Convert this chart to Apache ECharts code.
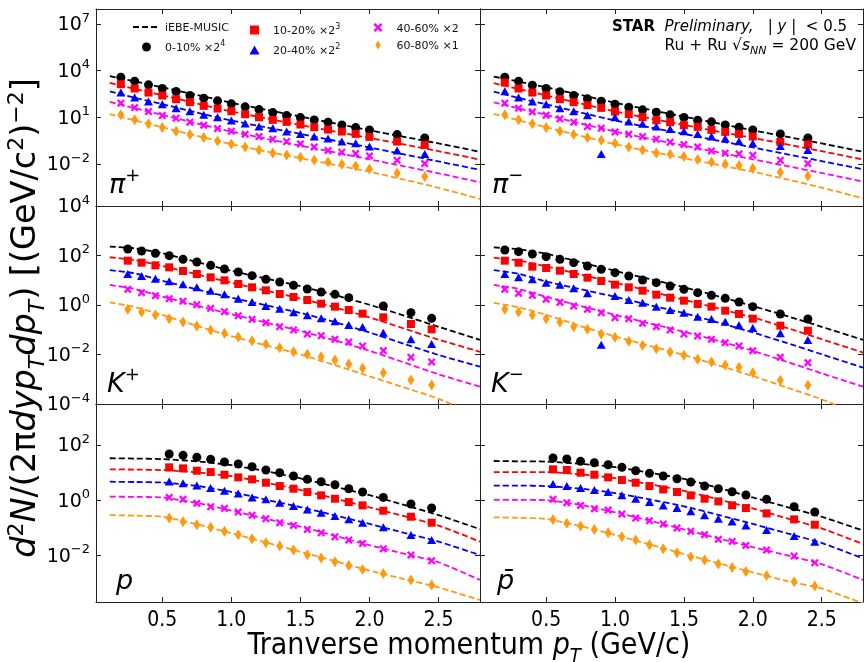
<!DOCTYPE html>
<html><head><meta charset="utf-8">
<script src="https://cdn.jsdelivr.net/npm/echarts@6.0.0/dist/echarts.min.js"></script>
<style>html,body{margin:0;padding:0;background:#fff}#c{width:864px;height:662px}</style>
</head><body><div id="c"></div>
<script>
// ---- DATA (y values stored as log10 of the yield) ----
const ptPi = [0.2,0.3,0.4,0.5,0.6,0.7,0.8,0.9,1.0,1.1,1.2,1.3,1.4,1.5,1.6,1.7,1.8,1.9,2.0,2.2,2.4];
const ptKp = [0.25,0.35,0.45,0.55,0.65,0.75,0.85,0.95,1.05,1.15,1.25,1.35,1.45,1.55,1.65,1.75,1.85,1.95,2.1,2.3,2.45];
const ptKm = [0.2,0.3,0.4,0.5,0.6,0.7,0.8,0.9,1.0,1.1,1.2,1.3,1.4,1.5,1.6,1.7,1.8,1.9,2.0,2.2,2.4];
const ptP  = [0.55,0.65,0.75,0.85,0.95,1.05,1.15,1.25,1.35,1.45,1.55,1.65,1.75,1.85,1.95,2.1,2.3,2.45];
const curveX = [0.12,0.3,0.5,0.75,1.0,1.25,1.5,1.75,2.0,2.25,2.5,2.8];

// pi+
const pip0 = [3.575,3.317,3.08,2.842,2.649,2.392,2.225,2.051,1.859,1.666,1.492,1.299,1.107,0.978,0.83,0.683,0.509,0.336,0.188,-0.114,-0.326];
const pip1 = [3.123,2.844,2.587,2.394,2.159,1.966,1.730,1.559,1.388,1.195,1.002,0.831,0.702,0.531,0.359,0.209,0.081,-0.069,-0.262,-0.562,-0.776];
const pip2 = [2.587,2.266,2.008,1.837,1.580,1.388,1.152,1.002,0.788,0.595,0.402,0.295,0.081,-0.069,-0.240,-0.369,-0.562,-0.669,-0.883,-1.140,-1.354];
const pip3 = [1.901,1.623,1.366,1.109,0.938,0.680,0.488,0.274,0.102,-0.090,-0.240,-0.411,-0.562,-0.711,-0.904,-1.140,-1.247,-1.332,-1.482,-1.761,-1.975];
const pip4 = [1.152,0.831,0.574,0.338,0.102,-0.112,-0.305,-0.519,-0.711,-0.904,-1.097,-1.290,-1.418,-1.568,-1.740,-1.868,-2.018,-2.125,-2.318,-2.575,-2.810];
const pipT0 = [3.64,3.30,2.92,2.43,1.93,1.48,1.04,0.60,0.16,-0.26,-0.68,-1.22];
const pipT1 = [3.20,2.82,2.41,1.88,1.37,0.93,0.50,0.08,-0.33,-0.75,-1.18,-1.72];
const pipT2 = [2.66,2.25,1.84,1.30,0.79,0.35,-0.07,-0.51,-0.94,-1.39,-1.84,-2.38];
const pipT3 = [1.98,1.58,1.15,0.60,0.08,-0.38,-0.82,-1.26,-1.70,-2.15,-2.60,-3.18];
const pipT4 = [1.20,0.80,0.36,-0.19,-0.73,-1.19,-1.63,-2.06,-2.50,-3.00,-3.53,-4.25];
// pi-
const pim0 = [3.575,3.317,3.060,2.846,2.632,2.394,2.180,2.030,1.837,1.644,1.473,1.323,1.152,0.981,0.809,0.702,0.509,0.359,0.188,-0.069,-0.326];
const pim1 = [3.229,2.844,2.587,2.394,2.159,1.966,1.773,1.602,1.366,1.195,1.002,0.809,0.680,0.488,0.381,0.188,0.059,-0.069,-0.240,-0.583,-0.754];
const pim2 = [2.673,2.266,2.008,1.837,1.580,1.388,1.130,-1.355,1.002,0.724,0.574,0.402,0.252,0.102,-0.069,-0.240,-0.369,-0.540,-0.669,-0.840,-1.097];
const pim3 = [1.901,1.580,1.345,1.130,0.895,0.680,0.402,0.295,0.059,-0.090,-0.240,-0.411,-0.604,-0.754,-0.904,-1.161,-1.311,-1.354,-1.440,-1.761,-1.975];
const pim4 = [1.152,0.831,0.574,0.338,0.102,-0.112,-0.305,-0.476,-0.669,-0.904,-1.097,-1.290,-1.375,-1.525,-1.718,-1.868,-1.997,-2.104,-2.275,-2.532,-2.767];
const pimT0 = [3.61,3.29,2.92,2.43,1.93,1.48,1.04,0.60,0.16,-0.26,-0.68,-1.22];
const pimT1 = [3.19,2.81,2.40,1.88,1.37,0.93,0.50,0.08,-0.33,-0.75,-1.18,-1.72];
const pimT2 = [2.65,2.24,1.83,1.30,0.79,0.35,-0.07,-0.51,-0.94,-1.38,-1.82,-2.34];
const pimT3 = [1.96,1.57,1.15,0.60,0.08,-0.38,-0.82,-1.26,-1.70,-2.14,-2.58,-3.13];
const pimT4 = [1.22,0.80,0.36,-0.19,-0.73,-1.19,-1.63,-2.06,-2.50,-2.99,-3.52,-4.20];
// K+
const kp0 = [2.263,2.182,2.088,1.993,1.845,1.737,1.603,1.455,1.333,1.185,1.037,0.929,0.795,0.646,0.525,0.431,0.296,null,-0.040,-0.310,-0.539];
const kp1 = [1.791,1.710,1.603,1.522,1.374,1.253,1.118,0.997,0.848,0.714,0.593,0.444,0.323,0.202,0.054,-0.067,-0.202,-0.350,-0.498,-0.768,-0.983];
const kp2 = [1.253,1.172,1.064,0.956,0.835,0.714,0.579,0.431,0.256,0.121,-0.040,-0.148,-0.296,-0.418,-0.539,-0.660,-0.808,-0.889,-1.118,-1.387,-1.576];
const kp3 = [0.633,0.498,0.377,0.256,0.148,0.013,-0.135,-0.269,-0.431,-0.579,-0.714,-0.875,-1.010,-1.172,-1.239,-1.387,-1.495,-1.657,-1.845,-2.114,-2.303];
const kp4 = [-0.175,-0.283,-0.404,-0.552,-0.687,-0.848,-1.010,-1.145,-1.293,-1.441,-1.589,-1.724,-1.886,-1.993,-2.088,-2.222,-2.384,-2.559,-2.734,-3.030,-3.232];
const kpT0 = [2.36,2.29,2.09,1.74,1.38,1.07,0.76,0.40,0.01,-0.43,-0.88,-1.41];
const kpT1 = [1.93,1.82,1.58,1.24,0.90,0.58,0.26,-0.10,-0.50,-0.95,-1.40,-1.89];
const kpT2 = [1.41,1.28,0.98,0.63,0.30,-0.01,-0.32,-0.69,-1.11,-1.57,-2.02,-2.49];
const kpT3 = [0.81,0.65,0.34,-0.02,-0.37,-0.71,-1.05,-1.43,-1.85,-2.32,-2.80,-3.30];
const kpT4 = [0.11,-0.08,-0.40,-0.84,-1.26,-1.63,-2.00,-2.43,-2.88,-3.33,-3.79,-4.50];
// K-
const km0 = [2.222,2.155,2.061,1.953,1.845,1.710,1.576,1.441,1.306,1.172,1.010,0.902,0.768,0.633,0.498,0.391,0.269,0.121,-0.067,-0.364,-0.566];
const km1 = [1.791,1.710,1.549,1.495,1.387,1.253,1.104,0.970,0.822,0.714,0.579,0.418,0.296,0.175,0.040,-0.067,-0.229,-0.364,-0.552,-0.835,-1.037];
const km2 = [1.253,1.118,1.037,0.902,0.822,0.673,0.471,-1.603,0.364,0.202,0.094,-0.067,-0.202,-0.310,-0.471,-0.566,-0.673,-0.822,-0.929,-1.145,-1.414];
const km3 = [0.633,0.471,0.391,0.229,0.108,-0.040,-0.175,-0.310,-0.512,-0.552,-0.741,-0.875,-1.010,-1.172,-1.253,-1.387,-1.522,-1.657,-1.845,-2.114,-2.330];
const km4 = [-0.175,-0.283,-0.404,-0.552,-0.687,-0.875,-0.983,-1.172,-1.306,-1.468,-1.630,-1.764,-1.899,-2.034,-2.195,-2.303,-2.424,-2.519,-2.734,-3.044,-3.246];
const kmT0 = [2.33,2.25,2.07,1.73,1.38,1.05,0.72,0.35,-0.04,-0.45,-0.88,-1.41];
const kmT1 = [1.91,1.80,1.56,1.23,0.90,0.56,0.21,-0.14,-0.50,-0.93,-1.38,-1.92];
const kmT2 = [1.41,1.26,0.95,0.64,0.33,0.00,-0.33,-0.71,-1.11,-1.54,-1.99,-2.53];
const kmT3 = [0.81,0.65,0.33,-0.04,-0.40,-0.74,-1.08,-1.45,-1.85,-2.30,-2.76,-3.30];
const kmT4 = [0.09,-0.09,-0.40,-0.85,-1.27,-1.65,-2.02,-2.44,-2.87,-3.34,-3.81,-4.50];
// p
const p0 = [1.674,1.625,1.553,1.480,1.384,1.311,1.214,1.093,0.997,0.876,0.755,0.670,0.562,0.417,0.296,0.102,-0.139,-0.284];
const p1 = [1.190,1.154,1.069,1.021,0.924,0.827,0.755,0.634,0.513,0.416,0.296,0.175,0.054,-0.067,-0.188,-0.381,-0.599,-0.816];
const p2 = [0.682,0.610,0.537,0.441,0.344,0.247,0.102,0.030,-0.091,-0.212,-0.333,-0.454,-0.575,-0.695,-0.816,-0.985,-1.263,-1.445];
const p3 = [0.102,0.030,-0.115,-0.236,-0.296,-0.429,-0.550,-0.671,-0.816,-0.913,-1.058,-1.179,-1.324,-1.445,-1.566,-1.760,-1.989,-2.195];
const p4 = [-0.647,-0.780,-0.889,-0.985,-1.130,-1.251,-1.396,-1.541,-1.662,-1.807,-1.977,-2.097,-2.230,-2.363,-2.508,-2.653,-2.895,-3.077];
const pT0 = [1.52,1.51,1.49,1.41,1.27,1.05,0.79,0.49,0.18,-0.17,-0.54,-1.05];
const pT1 = [1.12,1.11,1.09,1.01,0.87,0.64,0.37,0.06,-0.26,-0.58,-0.92,-1.50];
const pT2 = [0.67,0.66,0.64,0.52,0.30,0.02,-0.25,-0.55,-0.86,-1.18,-1.50,-1.99];
const pT3 = [0.13,0.12,0.10,-0.10,-0.38,-0.67,-0.96,-1.29,-1.63,-1.94,-2.25,-2.89];
const pT4 = [-0.54,-0.56,-0.60,-0.87,-1.20,-1.53,-1.87,-2.21,-2.55,-2.86,-3.16,-3.62];
// pbar
const pb0 = [1.529,1.492,1.408,1.359,1.287,1.190,1.069,0.973,0.876,0.779,0.658,0.513,0.417,0.308,0.187,0.030,-0.236,-0.429];
const pb1 = [1.118,1.094,0.997,0.924,0.827,0.731,0.634,0.513,0.392,0.296,0.175,0.054,-0.042,-0.187,-0.284,-0.477,-0.695,-0.888];
const pb2 = [0.586,0.513,0.441,0.368,0.296,0.175,0.054,-0.067,-0.188,-0.284,-0.405,-0.550,-0.671,-0.768,-0.913,-1.082,-1.300,-1.505];
const pb3 = [0.030,-0.091,-0.188,-0.309,-0.357,-0.502,-0.647,-0.743,-0.864,-1.009,-1.130,-1.251,-1.420,-1.493,-1.638,-1.808,-2.025,-2.267];
const pb4 = [-0.696,-0.840,-0.937,-1.058,-1.179,-1.324,-1.445,-1.614,-1.759,-1.904,-2.049,-2.170,-2.315,-2.436,-2.581,-2.726,-2.956,-3.113];
const pbT0 = [1.42,1.41,1.40,1.32,1.20,1.00,0.77,0.45,0.10,-0.25,-0.60,-1.10];
const pbT1 = [1.02,1.02,1.02,0.94,0.80,0.58,0.34,0.03,-0.30,-0.66,-1.02,-1.59];
const pbT2 = [0.53,0.53,0.51,0.42,0.26,0.03,-0.22,-0.53,-0.86,-1.20,-1.55,-2.11];
const pbT3 = [0.01,0.01,0.00,-0.17,-0.44,-0.74,-1.06,-1.38,-1.70,-2.00,-2.32,-2.89];
const pbT4 = [-0.62,-0.64,-0.68,-0.94,-1.26,-1.60,-1.95,-2.28,-2.62,-2.93,-3.20,-3.74];

const centNames = ['0-10% ×2⁴','10-20% ×2³','20-40% ×2²','40-60% ×2','60-80% ×1'];
const xTicks = [0.5,1.0,1.5,2.0,2.5];
const yTicksRow = [[1e-2,1e1,1e4,1e7],[1e-4,1e-2,1,1e2,1e4],[1e-2,1,1e2]];

// ---- STYLE ----
const FONT = 'DejaVu Sans';
const COND = "'DejaVu Sans Condensed','Liberation Sans Narrow','DejaVu Sans'";
const colors = ['#000000','#ff0000','#0000ff','#ff00ff','#ff9a10'];
const SQPATH = 'path://M0,0L10,0L10,10L0,10Z';
const TRPATH = 'path://M5,0L10,9L0,9Z';
const XPATH = 'path://M0,2L2,0L5,3L8,0L10,2L7,5L10,8L8,10L5,7L2,10L0,8L3,5Z';
const DPATH = 'path://M3,0L6,5L3,10L0,5Z';
const symbols = ['circle',SQPATH,TRPATH,XPATH,DPATH];
const sizes = [9,8,[9,8],8,[7,11]];
const toVal = e => Math.pow(10, e);

const panels = [
  {x: ptPi, d:[pip0,pip1,pip2,pip3,pip4], t:[pipT0,pipT1,pipT2,pipT3,pipT4], lab:'{m|π}{s|+}', lx:109, ly:184},
  {x: ptPi, d:[pim0,pim1,pim2,pim3,pim4], t:[pimT0,pimT1,pimT2,pimT3,pimT4], lab:'{m|π}{s|−}', lx:492, ly:184},
  {x: ptKp, d:[kp0,kp1,kp2,kp3,kp4], t:[kpT0,kpT1,kpT2,kpT3,kpT4], lab:'{m|K}{s|+}', lx:107, ly:383},
  {x: ptKm, d:[km0,km1,km2,km3,km4], t:[kmT0,kmT1,kmT2,kmT3,kmT4], lab:'{m|K}{s|−}', lx:491, ly:383},
  {x: ptP, d:[p0,p1,p2,p3,p4], t:[pT0,pT1,pT2,pT3,pT4], lab:'{m|p}', lx:116, ly:580},
  {x: ptP, d:[pb0,pb1,pb2,pb3,pb4], t:[pbT0,pbT1,pbT2,pbT3,pbT4], lab:'{m|p̄}', lx:497, ly:580}
];
const gridBox = [
  {left:96, top:9, width:384, height:197},
  {left:480, top:9, width:383, height:197},
  {left:96, top:206, width:384, height:198},
  {left:480, top:206, width:383, height:198},
  {left:96, top:404, width:384, height:198},
  {left:480, top:404, width:383, height:198}
];
const yRange = [[Math.pow(10,-4.7), Math.pow(10,7.95)], [1e-4, 1e4], [Math.pow(10,-3.69), Math.pow(10,3.487)]];

const lineCol = '#222';
const grids = [], xAxes = [], yAxes = [], series = [];
gridBox.forEach((b, g) => {
  const row = Math.floor(g/2), col = g % 2;
  grids.push(Object.assign({containLabel:false}, b));
  const xBase = {gridIndex:g, type:'value', min:0.02, max:2.8,
    axisLine:{show:true, onZero:false, lineStyle:{color:lineCol, width:1}},
    axisTick:{show:true, inside:true, length:5, customValues:xTicks, lineStyle:{color:lineCol, width:1}},
    splitLine:{show:false}};
  xAxes.push(Object.assign({}, xBase, {position:'bottom',
    axisLabel:{show: row===2, customValues:xTicks, formatter: v => v.toFixed(1), color:'#000', fontFamily:COND, fontSize:21, margin:8}}));
  xAxes.push(Object.assign({}, xBase, {position:'top', axisLabel:{show:false}}));
  const yBase = {gridIndex:g, type:'log', logBase:10, min:yRange[row][0], max:yRange[row][1],
    axisLine:{show:true, lineStyle:{color:lineCol, width:1}},
    axisTick:{show:true, inside:true, length:5, customValues:yTicksRow[row], lineStyle:{color:lineCol, width:1}},
    splitLine:{show:false}, minorTick:{show:false}};
  yAxes.push(Object.assign({}, yBase, {position:'left',
    axisLabel:{show: col===0, customValues:yTicksRow[row], margin:6, color:'#000',
      formatter: v => { const e = Math.round(Math.log10(v)); return '{b|10}{s|' + (e < 0 ? '−' + (-e) : e) + '}'; },
      rich:{ b:{fontFamily:FONT, fontSize:19, color:'#000', verticalAlign:'bottom', lineHeight:22},
             s:{fontFamily:FONT, fontSize:13, color:'#000', verticalAlign:'bottom', lineHeight:14, padding:[0,0,10,0]} }}}));
  yAxes.push(Object.assign({}, yBase, {position:'right', axisLabel:{show:false}}));

  const P = panels[g];
  for (let c = 0; c < 5; c++) {
    series.push({type:'line', name: c === 0 ? 'iEBE-MUSIC' : 'iEBE-MUSIC ' + centNames[c],
      xAxisIndex:2*g, yAxisIndex:2*g, symbol:'none', smooth:0.2, z:1, silent:true,
      data: curveX.map((x, i) => [x, toVal(P.t[c][i])]),
      lineStyle:{color:colors[c], width:1.8, type:[6,3]}, itemStyle:{color:colors[c], opacity:0}});
  }
  for (let c = 0; c < 5; c++) {
    series.push({type:'scatter', name: centNames[c], xAxisIndex:2*g, yAxisIndex:2*g, z:3,
      symbol:symbols[c], symbolSize:sizes[c], itemStyle:{color:colors[c], opacity:1},
      data: P.x.map((x, i) => [x, P.d[c][i]]).filter(d => d[1] != null).map(d => [d[0], toVal(d[1])])});
  }
});

const legendRich = {
  'iEBE-MUSIC':'{n|iEBE-MUSIC}', '0-10% ×2⁴':'{n|0-10% ×2}{s|4}', '10-20% ×2³':'{n|10-20% ×2}{s|3}',
  '20-40% ×2²':'{n|20-40% ×2}{s|2}', '40-60% ×2':'{n|40-60% ×2}', '60-80% ×1':'{n|60-80% ×1}'
};
const legText = {fontFamily:FONT, fontSize:11, color:'#111',
  rich:{ n:{fontFamily:FONT, fontSize:11, color:'#111', lineHeight:14, verticalAlign:'bottom'},
         s:{fontFamily:FONT, fontSize:8, color:'#111', lineHeight:8, verticalAlign:'bottom', padding:[0,0,6,0]} }};
const mkLegend = (left, names) => ({left, top:23, orient:'vertical', padding:0, itemWidth:27, itemHeight:9, itemGap:6,
  selectedMode:false, data:names, formatter: n => legendRich[n] || n, textStyle:legText});

const panelLabels = panels.map(P => ({type:'text', x:P.lx, y:P.ly, silent:true,
  style:{text:P.lab, align:'left', verticalAlign:'middle', textAlign:'left', textVerticalAlign:'middle',
    rich:{ m:{fontFamily:FONT, fontSize:27, fontStyle:'italic', fill:'#000', verticalAlign:'bottom', lineHeight:30},
           s:{fontFamily:FONT, fontSize:18, fill:'#000', verticalAlign:'bottom', lineHeight:20, padding:[0,0,14,0]} }}}));

const baseR = (sz, extra) => Object.assign({fontFamily:FONT, fontSize:sz, fill:'#000', verticalAlign:'bottom'}, extra || {});
const graphics = panelLabels.concat([
  {type:'text', x:847, y:27, silent:true,
   style:{text:'{b|STAR}{n|  }{i|Preliminary,}{n|   | }{i|y}{n| |  < 0.5}', align:'right', textAlign:'right', verticalAlign:'middle', textVerticalAlign:'middle',
     rich:{ b:baseR(15,{fontWeight:'bold'}), n:baseR(15), i:baseR(15,{fontStyle:'italic'}) }}},
  {type:'text', x:856, y:47, silent:true,
   style:{text:'{n|Ru + Ru }{n|√}{i|s}{sb|NN}{n| = 200 GeV}', align:'right', textAlign:'right', verticalAlign:'middle', textVerticalAlign:'middle',
     rich:{ n:baseR(15.5,{padding:[0,0,3,0]}), i:baseR(15.5,{fontStyle:'italic', padding:[0,0,3,0]}), sb:baseR(11,{fontStyle:'italic'}) }}},
  {type:'text', x:28, y:318, rotation:Math.PI/2, silent:true,
   style:{text:'{i|d}{sp|2}{i|N}{n|/(2π}{i|dyp}{sb|T}{i|dp}{sb|T}{n|) [(GeV/c}{sp|2}{n|)}{sp|−2}{n|]}',
     align:'center', textAlign:'center', verticalAlign:'middle', textVerticalAlign:'middle',
     rich:{ n:baseR(33.5,{padding:[0,0,6,0]}), i:baseR(33.5,{fontStyle:'italic', padding:[0,0,6,0]}),
            sp:baseR(22,{padding:[0,0,21,0]}), sb:baseR(22,{fontStyle:'italic'}) }}},
  {type:'text', x:469, y:649, silent:true,
   style:{text:'{n|Tranverse momentum }{i|p}{sb|T}{n| (GeV/c)}', align:'center', textAlign:'center', verticalAlign:'middle', textVerticalAlign:'middle',
     rich:{ n:{fontFamily:COND, fontSize:30, fill:'#000', verticalAlign:'bottom', padding:[0,0,5,0]},
            i:{fontFamily:COND, fontSize:30, fontStyle:'italic', fill:'#000', verticalAlign:'bottom', padding:[0,0,5,0]},
            sb:{fontFamily:COND, fontSize:20, fontStyle:'italic', fill:'#000', verticalAlign:'bottom'} }}}
]);

const chart = echarts.init(document.getElementById('c'), null, {renderer:'canvas'});
chart.setOption({
  animation:false, backgroundColor:'#ffffff',
  textStyle:{fontFamily:FONT},
  grid:grids, xAxis:xAxes, yAxis:yAxes, series:series,
  legend:[
    mkLegend(132, ['iEBE-MUSIC','0-10% ×2⁴']),
    mkLegend(249.5, ['10-20% ×2³','20-40% ×2²']),
    mkLegend(373.5, ['40-60% ×2','60-80% ×1'])
  ],
  graphic:graphics
});
</script></body></html>
